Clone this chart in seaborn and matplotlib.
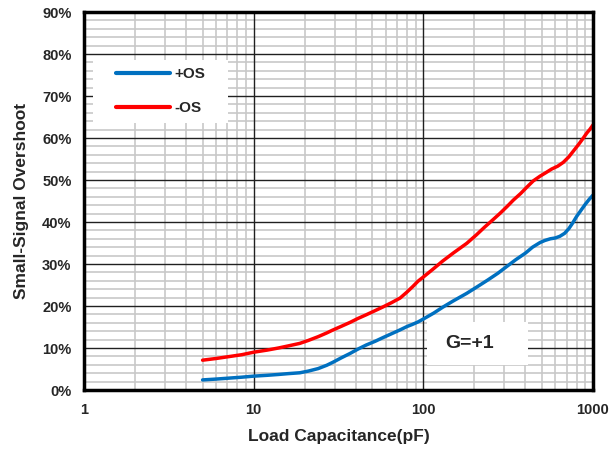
import matplotlib
matplotlib.use("Agg")
import matplotlib.pyplot as plt
import matplotlib.ticker as mticker
from matplotlib.patches import Rectangle
import seaborn as sns
import pandas as pd
import numpy as np

# Data
cap_pos = [5, 6, 7, 8.5, 10, 12, 14, 16, 18.7, 21, 24, 27, 29.3, 33, 37, 41, 46, 52, 58, 65, 72.8, 80, 86, 93, 100,
           115, 130, 150, 180, 210, 240, 275, 310, 350, 400, 440, 487, 520, 560, 600, 638, 680, 720, 760, 800, 850, 900, 950, 1000]
os_pos = [2.4, 2.6, 2.8, 3.05, 3.3, 3.5, 3.7, 3.9, 4.1, 4.5, 5.1, 5.9, 6.6, 7.7, 8.7, 9.7, 10.7, 11.6, 12.5, 13.4, 14.3, 15.1, 15.6, 16.2, 16.9,
          18.3, 19.7, 21.2, 23.0, 24.7, 26.2, 27.8, 29.4, 31.0, 32.6, 34.0, 35.1, 35.6, 36.0, 36.2, 36.6, 37.3, 38.4, 39.8, 41.3, 42.8, 44.2, 45.4, 46.4]
cap_neg = [5, 6, 7, 8.5, 10, 12, 14, 16, 18.7, 21, 24, 27, 29, 33, 37, 41, 46, 52, 58, 65, 73, 80, 87, 93, 100,
           115, 130, 150, 180, 205, 230, 255, 282, 310, 339, 375, 410, 445, 487, 530, 570, 620, 668, 720, 770, 820, 870, 920, 960, 1000]
os_neg = [7.1, 7.5, 7.9, 8.4, 9.0, 9.5, 10.0, 10.5, 11.1, 11.8, 12.7, 13.6, 14.2, 15.2, 16.1, 17.0, 17.9, 18.9, 19.8, 20.8, 21.9, 23.3, 24.7, 25.9, 26.9,
          28.9, 30.7, 32.6, 34.9, 36.9, 38.8, 40.4, 42.0, 43.6, 45.2, 46.8, 48.4, 49.8, 50.9, 51.8, 52.6, 53.3, 54.2, 55.5, 57.0, 58.4, 59.8, 61.2, 62.1, 63.1]
series_names = ["+OS", "-OS"]
colors = ["#0070C0", "#FF0000"]
x_major = [1, 10, 100, 1000]
y_major = [0, 10, 20, 30, 40, 50, 60, 70, 80, 90]

df = pd.concat([
    pd.DataFrame({"cap": cap_pos, "os": os_pos, "series": series_names[0]}),
    pd.DataFrame({"cap": cap_neg, "os": os_neg, "series": series_names[1]}),
])

sns.set_style("white")
plt.rcParams["font.family"] = ["Liberation Sans", "DejaVu Sans"]
plt.rcParams["font.weight"] = "bold"

fig = plt.figure(figsize=(6.10, 4.51), dpi=100)
ax = fig.add_axes([84/610, 61/451, 509/610, 378/451])

sns.lineplot(data=df, x="cap", y="os", hue="series", palette=colors,
             hue_order=series_names, linewidth=2.5, ax=ax, sort=False,
             estimator=None, legend=True, zorder=5)

ax.set_xscale("log")
ax.set_xlim(1, 1000)
ax.set_ylim(0, 90)

ax.xaxis.set_major_locator(mticker.FixedLocator(x_major))
ax.xaxis.set_minor_locator(mticker.LogLocator(base=10, subs=np.arange(2, 10), numticks=20))
ax.xaxis.set_major_formatter(mticker.FuncFormatter(lambda v, p: f"{v:g}"))
ax.xaxis.set_minor_formatter(mticker.NullFormatter())
ax.yaxis.set_major_locator(mticker.FixedLocator(y_major))
ax.yaxis.set_minor_locator(mticker.MultipleLocator(2))
ax.yaxis.set_major_formatter(mticker.FuncFormatter(lambda v, p: f"{v:.0f}%"))

ax.grid(which="minor", color="#C8C8C8", linewidth=1.2)
ax.grid(which="major", visible=False)
ax.set_axisbelow(True)
for v in x_major:
    ax.axvline(v, color="#202020", linewidth=1.0, zorder=1)
for v in y_major:
    ax.axhline(v, color="#202020", linewidth=1.0, zorder=1)

for s in ax.spines.values():
    s.set_visible(True)
    s.set_color("black")
    s.set_linewidth(2.5)
    s.set_zorder(6)

ax.tick_params(which="both", length=0, labelsize=10.5, pad=9)
for lab in ax.get_xticklabels() + ax.get_yticklabels():
    lab.set_fontweight("bold")

ax.set_xlabel("Load Capacitance(pF)", fontsize=12.5, fontweight="bold", labelpad=9)
ax.set_ylabel("Small-Signal Overshoot", fontsize=12.5, fontweight="bold", labelpad=9)

# white boxes behind legend and annotation
ax.add_patch(Rectangle((0.018, 0.706), 0.265, 0.167, transform=ax.transAxes,
                       facecolor="white", edgecolor="none", zorder=3))
ax.add_patch(Rectangle((0.674, 0.066), 0.198, 0.114, transform=ax.transAxes,
                       facecolor="white", edgecolor="none", zorder=3))

leg = ax.legend(loc="upper left", bbox_to_anchor=(0.063, 0.854), frameon=False,
                handlelength=3.5, labelspacing=1.3, borderpad=0, borderaxespad=0,
                handletextpad=0.3, prop={"weight": "bold", "size": 11})
leg.set_zorder(7)
for line in leg.get_lines():
    line.set_linewidth(3)

ax.text(0.757, 0.122, "G=+1", transform=ax.transAxes, ha="center", va="center",
        fontsize=14, fontweight="bold", zorder=7)

fig.savefig("out.png", dpi=100)
